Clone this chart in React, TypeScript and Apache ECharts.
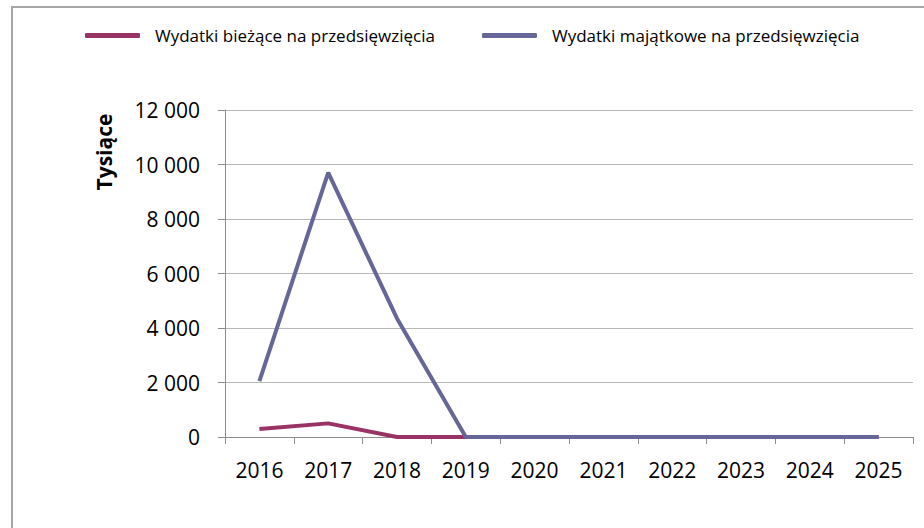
import React, { useEffect, useRef } from "react";
import * as echarts from "echarts";

const categories = ["2016", "2017", "2018", "2019", "2020", "2021", "2022", "2023", "2024", "2025"];
const biezace = [290, 500, 0, 0, 0, 0, 0, 0, 0, 0];
const majatkowe = [2050, 9700, 4350, 0, 0, 0, 0, 0, 0, 0];
const seriesNames = ["Wydatki bieżące na przedsięwzięcia", "Wydatki majątkowe na przedsięwzięcia"];
const colors = ["#993366", "#666699"];
const yAxisTitle = "Tysiące";

const FONT = "'Open Sans', 'Noto Sans', sans-serif";

function fmt(v: number): string {
  return String(v).replace(/\B(?=(\d{3})+(?!\d))/g, " ");
}

export default function App() {
  const ref = useRef<HTMLDivElement>(null);
  useEffect(() => {
    if (!ref.current) return;
    const chart = echarts.init(ref.current, undefined, { renderer: "svg" });
    const legendText = { fontFamily: FONT, fontSize: 17, color: "#000", padding: [2, 0, 0, 10] };
    chart.setOption({
      animation: false,
      backgroundColor: "#fff",
      textStyle: { fontFamily: FONT },
      legend: [
        {
          data: [seriesNames[0]],
          left: 85,
          top: 27,
          padding: 0,
          icon: "roundRect",
          itemWidth: 55,
          itemHeight: 5,
          textStyle: legendText,
        },
        {
          data: [seriesNames[1]],
          left: 482,
          top: 27,
          padding: 0,
          icon: "roundRect",
          itemWidth: 55,
          itemHeight: 5,
          textStyle: legendText,
        },
      ],
      graphic: [
        {
          type: "rect",
          shape: { x: 12, y: 7, width: 1000, height: 600 },
          style: { fill: "none", stroke: "#a6a6a6", lineWidth: 2 },
          silent: true,
        },
        {
          type: "text",
          x: 104,
          y: 152,
          rotation: Math.PI / 2,
          style: {
            text: yAxisTitle,
            fontFamily: FONT,
            fontSize: 21,
            fontWeight: "bold",
            fill: "#000",
            align: "center",
            verticalAlign: "middle",
          },
        },
      ],
      grid: { left: 225, right: 11, top: 110, bottom: 91, containLabel: false },
      xAxis: {
        type: "category",
        data: categories,
        boundaryGap: true,
        axisLine: { show: true, lineStyle: { color: "#8c8c8c", width: 1 } },
        axisTick: { show: true, length: 7, alignWithLabel: false, lineStyle: { color: "#8c8c8c" } },
        axisLabel: { fontFamily: FONT, fontSize: 21, color: "#000", margin: 22 },
        splitLine: { show: false },
      },
      yAxis: {
        type: "value",
        min: 0,
        max: 12000,
        interval: 2000,
        axisLine: { show: true, lineStyle: { color: "#8c8c8c", width: 1 } },
        axisTick: { show: true, length: 7, lineStyle: { color: "#8c8c8c" } },
        axisLabel: { fontFamily: FONT, fontSize: 21, color: "#000", margin: 25, formatter: (v: number) => fmt(v) },
        splitLine: { show: true, lineStyle: { color: "#b8b8b8", width: 1 } },
      },
      series: [
        {
          name: seriesNames[0],
          type: "line",
          data: biezace,
          symbol: "none",
          color: colors[0],
          lineStyle: { width: 4, color: colors[0] },
        },
        {
          name: seriesNames[1],
          type: "line",
          data: majatkowe,
          symbol: "none",
          color: colors[1],
          lineStyle: { width: 4, color: colors[1] },
        },
      ],
    });
    return () => chart.dispose();
  }, []);
  return (
    <div
      ref={ref}
      style={{ position: "absolute", left: 0, top: 0, width: 924, height: 528 }}
    />
  );
}
